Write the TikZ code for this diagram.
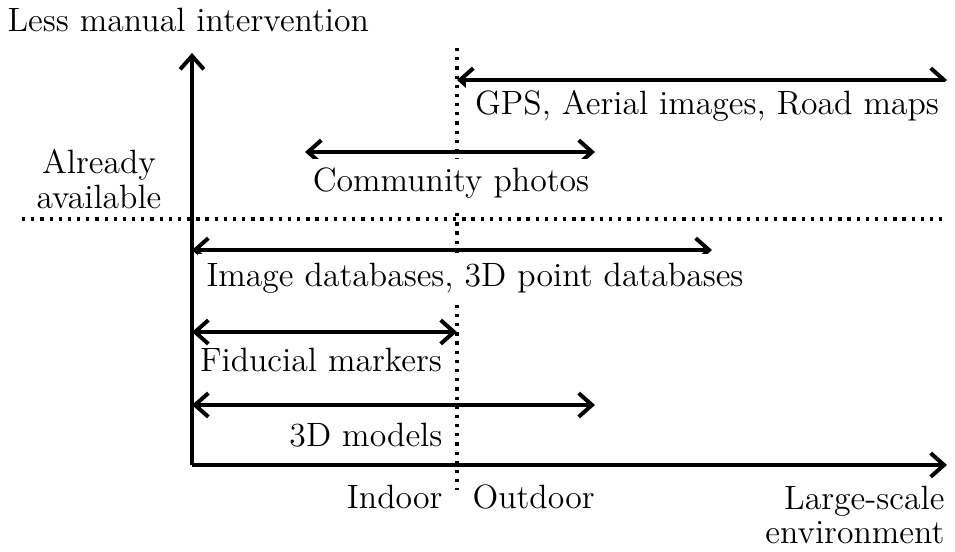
\documentclass[tikz,border=0pt]{standalone}
\usepackage{tikz}
\usetikzlibrary{arrows.meta, calc}
\tikzstyle{axisline} = [line width=1.35pt, -{Straight Barb[length=4.5pt,width=8pt,line width=1.35pt]}]
\tikzstyle{spanline} = [line width=1.35pt, {Straight Barb[length=4.5pt,width=8pt,line width=1.35pt]}-{Straight Barb[length=4.5pt,width=8pt,line width=1.35pt]}]
\tikzstyle{split} = [line width=1.1pt, dotted]
\tikzstyle{lbl} = [inner sep=3pt, fill=white, font=\fontsize{11.4}{11.8}\selectfont]

\begin{document}
\begin{tikzpicture}[x=0.338pt, y=-0.338pt]
\useasboundingbox (0,0) rectangle (955,551);

%%% dotted splits
\coordinate (vtop) at (457,48);
\coordinate (vbot) at (457,490);
\coordinate (hleft) at (22,219);
\coordinate (hright) at (945,219);
\draw[split] (vtop) -- (vbot);
\draw[split] (hleft) -- (hright);

%%% axes
\coordinate (o) at (192,465);
\coordinate (ytop) at (192,53);
\coordinate (xend) at (947,465);
\draw[axisline] (o) -- (ytop);
\draw[axisline] (o) -- (xend);

\node[lbl, inner sep=0, anchor=west] (ylab) at (7,20) {Less manual intervention};
\node[lbl, inner sep=0, align=center] (avail) at (99,179) {Already\\available};
\node[lbl, inner sep=0, anchor=east] (indoor) at (443,497) {Indoor};
\node[lbl, inner sep=0, anchor=west] (outdoor) at (472,497) {Outdoor};
\node[lbl, inner sep=0, align=right, anchor=north east] (xlab) at (945,485) {Large-scale\\environment};

%%% ranges
\coordinate (gpsA) at (457,80);
\coordinate (gpsB) at (947,80);
\draw[spanline] (gpsA) -- (gpsB);
\node[lbl] (gps) at (707,106) {GPS, Aerial images, Road maps};

\coordinate (comA) at (305,152);
\coordinate (comB) at (595,152);
\draw[spanline] (comA) -- (comB);
\node[lbl] (com) at (451,183) {Community photos};

\coordinate (dbA) at (192,250);
\coordinate (dbB) at (712,250);
\draw[spanline] (dbA) -- (dbB);
\node[lbl] (db) at (475,278) {Image databases, 3D point databases};

\coordinate (fidA) at (192,332);
\coordinate (fidB) at (457,332);
\draw[spanline] (fidA) -- (fidB);
\node[lbl, inner sep=0] (fid) at (321,360) {Fiducial markers};

\coordinate (modA) at (192,405);
\coordinate (modB) at (595,405);
\draw[spanline] (modA) -- (modB);
\node[lbl, inner sep=0, anchor=east] (mod) at (443,435) {3D models};

\end{tikzpicture}
\end{document}
